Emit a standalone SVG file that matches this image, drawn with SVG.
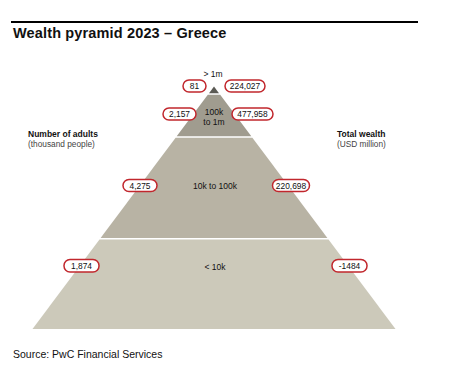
<svg xmlns="http://www.w3.org/2000/svg" width="462" height="382" viewBox="0 0 462 382">
<style>
.t{font-family:"Liberation Sans",Arial,sans-serif;fill:#111}
.lbl{font-size:8.5px;text-anchor:middle}
.pill rect{fill:#fff;stroke:#c1272d;stroke-width:1.5}
.pill text{font-family:"Liberation Sans",Arial,sans-serif;font-size:8.4px;fill:#111;text-anchor:middle}
.hd{font-size:8.5px;font-weight:bold}
.sub{font-size:8.3px;fill:#444}
</style>
<rect width="462" height="382" fill="#fff"/>
<line x1="11" y1="22" x2="418" y2="22" stroke="#000" stroke-width="2"/>
<text class="t" x="13" y="37.5" font-size="14.5" font-weight="bold" letter-spacing="0.15">Wealth pyramid 2023 – Greece</text>

<g id="tier-top">
<polygon points="214,86.5 209,93.3 219,93.3" fill="#5b5a54"/>
<text class="t lbl" x="213" y="77">&gt; 1m</text>
</g>
<g id="tier-100k-1m">
<polygon points="207.8,94.8 220.2,94.8 251.3,136.3 176.7,136.3" fill="#a09c8f"/>
<text class="t lbl" x="214" y="114.5">100k</text>
<text class="t lbl" x="214" y="124.5">to 1m</text>
</g>
<g id="tier-10k-100k">
<polygon points="175.6,137.8 252.4,137.8 327.4,238 100.6,238" fill="#b8b3a4"/>
<text class="t lbl" x="215" y="189">10k to 100k</text>
</g>
<g id="tier-lt10k">
<polygon points="99.5,239.5 328.5,239.5 395.5,329 32.5,329" fill="#ccc9ba"/>
<text class="t lbl" x="215" y="269.5">&lt; 10k</text>
</g>

<g id="left-header">
<text class="t hd" x="28" y="137">Number of adults</text>
<text class="t sub" x="28" y="146.5">(thousand people)</text>
</g>
<g id="right-header">
<text class="t hd" x="337" y="137">Total wealth</text>
<text class="t sub" x="337" y="146.5">(USD million)</text>
</g>

<g id="pill-81" class="pill"><rect x="183" y="80" width="23" height="12" rx="6"/><text x="194.5" y="89">81</text></g>
<g id="pill-224027" class="pill"><rect x="225" y="80" width="40" height="12" rx="6"/><text x="245" y="89">224,027</text></g>
<g id="pill-2157" class="pill"><rect x="163" y="108" width="33" height="12" rx="6"/><text x="179.5" y="117">2,157</text></g>
<g id="pill-477958" class="pill"><rect x="232" y="108" width="41" height="12" rx="6"/><text x="252.5" y="117">477,958</text></g>
<g id="pill-4275" class="pill"><rect x="123" y="179.5" width="34" height="12" rx="6"/><text x="140" y="188.5">4,275</text></g>
<g id="pill-220698" class="pill"><rect x="272.5" y="179.5" width="37" height="12" rx="6"/><text x="291" y="188.5">220,698</text></g>
<g id="pill-1874" class="pill"><rect x="64" y="259.5" width="35" height="12.5" rx="6"/><text x="81.5" y="268.8">1,874</text></g>
<g id="pill-m1484" class="pill"><rect x="332" y="259.5" width="35" height="12.5" rx="6"/><text x="349.5" y="268.8">-1484</text></g>

<g id="connectors"></g>

<text class="t" x="13" y="357.5" font-size="10.5" fill="#333">Source: PwC Financial Services</text>
</svg>
